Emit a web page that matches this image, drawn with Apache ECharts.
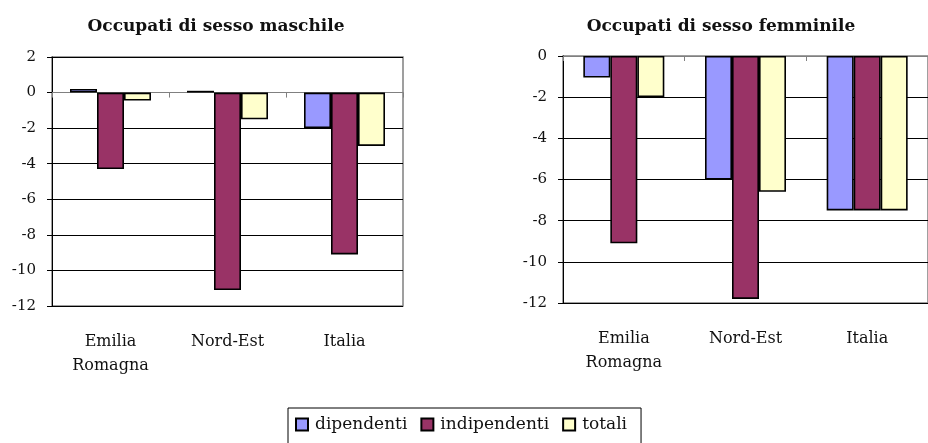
<!DOCTYPE html>
<html>
<head>
<meta charset="utf-8">
<script src="https://cdn.jsdelivr.net/npm/echarts@6/dist/echarts.min.js"></script>
<style>
  html, body { margin: 0; padding: 0; background: #fff; }
  #chart { width: 928px; height: 443px; }
</style>
</head>
<body>
<div id="chart"></div>
<script>
// dati
const categories = ['Emilia\nRomagna', 'Nord-Est', 'Italia'];
const seriesNames = ['dipendenti', 'indipendenti', 'totali'];
const maschiDipendenti = [0.2, 0.1, -2.0];
const maschiIndipendenti = [-4.3, -11.1, -9.1];
const maschiTotali = [-0.45, -1.5, -3.0];
const femmineDipendenti = [-1.05, -6.0, -7.5];
const femmineIndipendenti = [-9.1, -11.8, -7.5];
const femmineTotali = [-2.0, -6.6, -7.5];
const colors = ['#9999FF', '#993366', '#FFFFCC'];

const font = "'DejaVu Serif', 'Liberation Serif', serif";

function makeXAxes(gridIndex) {
  return [
    {
      // etichette in basso
      type: 'category', gridIndex, data: categories, position: 'bottom',
      axisLine: {show: false, onZero: false},
      axisTick: {show: false},
      axisLabel: {fontFamily: font, fontSize: 16, color: '#111', margin: 24, lineHeight: 24}
    },
    {
      // linea dello zero
      type: 'category', gridIndex, data: categories, position: 'bottom',
      axisLine: {onZero: true, lineStyle: {color: '#808080', width: 1}},
      axisTick: {show: true, length: 5, lineStyle: {color: '#808080'}},
      axisLabel: {show: false}
    }
  ];
}

function makeYAxis(gridIndex, min, max) {
  return {
    type: 'value', gridIndex, min, max, interval: 2,
    axisLine: {show: true, lineStyle: {color: '#000', width: 1}},
    axisTick: {show: true, length: 5, lineStyle: {color: '#000'}},
    splitLine: {lineStyle: {color: '#000', width: 1}},
    axisLabel: {fontFamily: font, fontSize: 15, color: '#111', margin: 16}
  };
}

function makeSeries(gridIndex, values) {
  return values.map((data, i) => ({
    name: seriesNames[i],
    type: 'bar',
    xAxisIndex: gridIndex * 2,
    yAxisIndex: gridIndex,
    data,
    barWidth: 27,
    barGap: '0%',
    itemStyle: {color: colors[i], borderColor: '#000', borderWidth: 1.6},
    emphasis: {disabled: true}
  }));
}

const chart = echarts.init(document.getElementById('chart'), null, {renderer: 'canvas'});
chart.setOption({
  animation: false,
  backgroundColor: '#fff',
  title: [
    {text: 'Occupati di sesso maschile', left: 211, top: 13, textAlign: 'center',
      textStyle: {fontFamily: font, fontSize: 17, fontWeight: 'bold', color: '#111'}},
    {text: 'Occupati di sesso femminile', left: 716, top: 13, textAlign: 'center',
      textStyle: {fontFamily: font, fontSize: 17, fontWeight: 'bold', color: '#111'}}
  ],
  grid: [
    {left: 52, top: 57, width: 351, height: 249, show: true, borderColor: '#808080', borderWidth: 1.5},
    {left: 563, top: 56, width: 372, height: 247, show: true, borderColor: '#808080', borderWidth: 1.5}
  ],
  xAxis: [...makeXAxes(0), ...makeXAxes(1)],
  yAxis: [makeYAxis(0, -12, 2), makeYAxis(1, -12, 0)],
  legend: {
    data: seriesNames,
    left: 288, top: 408,
    padding: [8, 14, 14, 7],
    itemGap: 13,
    itemWidth: 12, itemHeight: 12,
    borderColor: '#000', borderWidth: 1,
    icon: 'rect',
    textStyle: {fontFamily: font, fontSize: 17, color: '#111', padding: [0, 0, 0, 2]}
  },
  series: [
    ...makeSeries(0, [maschiDipendenti, maschiIndipendenti, maschiTotali]),
    ...makeSeries(1, [femmineDipendenti, femmineIndipendenti, femmineTotali])
  ]
});
</script>
</body>
</html>
